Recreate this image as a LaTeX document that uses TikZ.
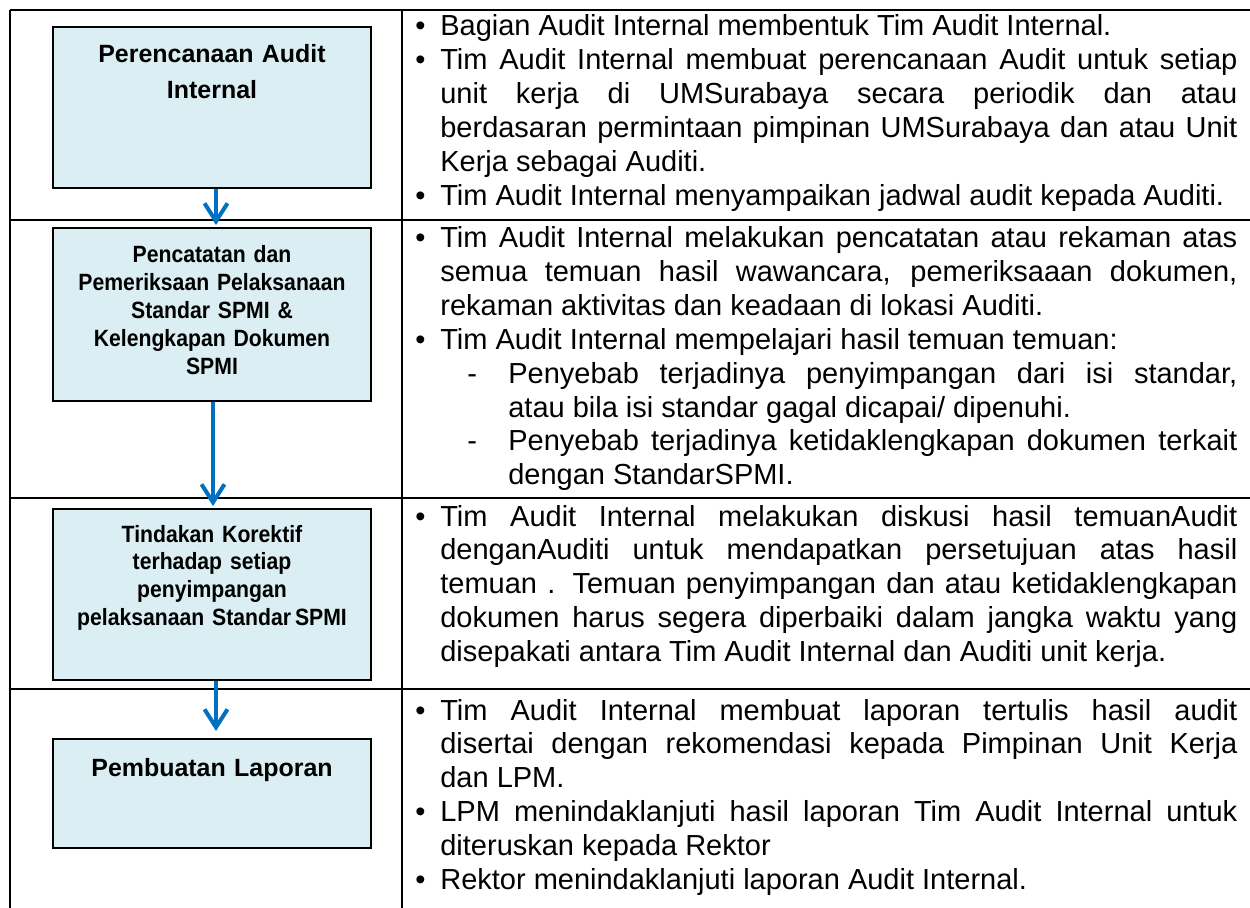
\documentclass[tikz,border=0pt]{standalone}
\usepackage{fontspec}
\setmainfont{Liberation Sans}
\newfontfamily\narrowfont[FakeStretch=0.9]{Liberation Sans}
\usepackage{xcolor}
\usetikzlibrary{arrows.meta,positioning}
\definecolor{boxfill}{HTML}{DAEEF3}
\definecolor{flowblue}{HTML}{0070C0}
\tikzset{
  frame/.style={line width=0.55mm},
  stepbox/.style={draw,line width=0.4mm,fill=boxfill,minimum width=63.6mm,inner sep=0pt},
  lbl/.style={text width=62mm,align=center,inner sep=0pt,font=\bfseries\fontsize{14.2}{20.2}\selectfont},
  lbln/.style={text width=62mm,align=center,inner sep=0pt,font=\narrowfont\bfseries\fontsize{13.4}{15.9}\selectfont},
  desc/.style={text width=164.4mm,align=justify,inner sep=0pt,font=\fontsize{16.5}{19.25}\selectfont},
  flow/.style={draw=flowblue,line width=0.8mm,-{Straight Barb[length=3.6mm,width=4.6mm]}}
}
\newcommand{\itm}{\hangindent=5mm\hangafter=1\noindent\makebox[5mm][l]{•}}
\newcommand{\subitm}{\hangindent=18.6mm\hangafter=1\noindent\hspace*{10.4mm}\makebox[8.2mm][l]{-}}
\hyphenpenalty=10000
\exhyphenpenalty=10000
\tolerance=9999

\begin{document}
\begin{tikzpicture}[x=0.2mm,y=-0.2mm]
\useasboundingbox (0,0) rectangle (1250,908);
% table
\draw[frame] (10,10) -- (1250,10);
\draw[frame] (10,10) -- (10,908);
\draw[frame] (402,10) -- (402,908);
\draw[frame] (10,220) -- (1250,220);
\draw[frame] (10,498) -- (1250,498);
\draw[frame] (10,689) -- (1250,689);
% steps
\node[stepbox,minimum height=32.2mm] (plan) at (212,107.5) {};
\node[stepbox,minimum height=34.6mm] (check) at (212,314.5) {};
\node[stepbox,minimum height=34.2mm] (fix) at (212,594.5) {};
\node[stepbox,minimum height=21.8mm] (report) at (212,793.5) {};
\node[lbl,anchor=base] (planlbl) at (212,63) {Perencanaan Audit\\Internal};
\node[lbln,anchor=base] (checklbl) at (212,263) {Pencatatan dan\\Pemeriksaan Pelaksanaan\\Standar SPMI \&\\Kelengkapan Dokumen\\SPMI};
\node[lbln,anchor=base] (fixlbl) at (212,542) {Tindakan Korektif\\terhadap setiap\\penyimpangan\\pelaksanaan Standar\,SPMI};
\node[lbl,anchor=base] (reportlbl) at (212,776) {Pembuatan Laporan};
\draw[flow,shorten >=0.4mm] ([xshift=0.8mm]plan.south) -- ([xshift=0.8mm]check.north);
\draw[flow,shorten >=0.4mm] ([xshift=0.2mm]check.south) -- ([xshift=0.2mm]fix.north);
\draw[flow,shorten >=1.4mm] ([xshift=0.8mm]fix.south) -- ([xshift=0.8mm]report.north);
% descriptions
\node[desc,anchor=base west] (plantxt) at (415,36) {%
\itm Bagian Audit Internal membentuk Tim Audit Internal.\par
\itm Tim Audit Internal membuat perencanaan Audit untuk setiap\linebreak
unit kerja di UMSurabaya secara periodik dan atau\linebreak
berdasaran permintaan pimpinan UMSurabaya dan atau Unit\linebreak
Kerja sebagai Auditi.\par
\itm Tim Audit Internal menyampaikan jadwal audit kepada Auditi.\par};
\node[desc,anchor=base west] (checktxt) at (415,248) {%
\itm Tim Audit Internal melakukan pencatatan atau rekaman atas\linebreak
semua temuan hasil wawancara, pemeriksaaan dokumen,\linebreak
rekaman aktivitas dan keadaan di lokasi Auditi.\par
\itm Tim Audit Internal mempelajari hasil temuan temuan:\par
\subitm Penyebab terjadinya penyimpangan dari isi standar,\linebreak
atau bila isi standar gagal dicapai/ dipenuhi.\par
\subitm Penyebab terjadinya ketidaklengkapan dokumen terkait\linebreak
dengan StandarSPMI.\par};
\node[desc,anchor=base west] (fixtxt) at (415,526) {%
\itm Tim Audit Internal melakukan diskusi hasil temuanAudit\linebreak
denganAuditi untuk mendapatkan persetujuan atas hasil\linebreak
temuan . Temuan penyimpangan dan atau ketidaklengkapan\linebreak
dokumen harus segera diperbaiki dalam jangka waktu yang\linebreak
disepakati antara Tim Audit Internal dan Auditi unit kerja.\par};
\node[desc,anchor=base west] (reporttxt) at (415,720) {%
\itm Tim Audit Internal membuat laporan tertulis hasil audit\linebreak
disertai dengan rekomendasi kepada Pimpinan Unit Kerja\linebreak
dan LPM.\par
\itm LPM menindaklanjuti hasil laporan Tim Audit Internal untuk\linebreak
diteruskan kepada Rektor\par
\itm Rektor menindaklanjuti laporan Audit Internal.\par};
\end{tikzpicture}
\end{document}
